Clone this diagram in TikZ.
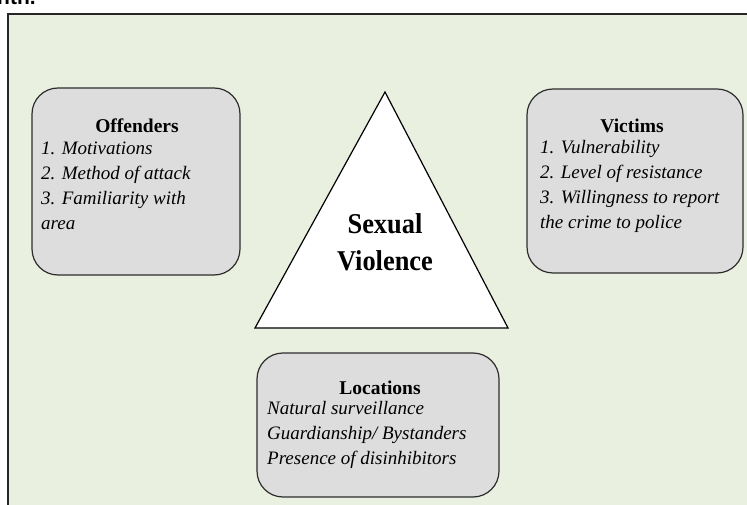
\documentclass[tikz,border=0pt]{standalone}
\usepackage{fontspec}
\setmainfont{Liberation Serif}
\newfontfamily\headsans{Liberation Sans}
\newfontfamily\coreserif[FakeStretch=0.92]{Liberation Serif}
\usepackage{xcolor}
\definecolor{panelgreen}{RGB}{233,240,223}
\definecolor{boxgrey}{RGB}{221,221,221}
\definecolor{edgegrey}{RGB}{45,45,45}

\tikzset{
  factorbox/.style={draw=edgegrey, fill=boxgrey, line width=1.2pt,
    rounded corners=26pt, inner sep=0pt},
  boxtitle/.style={anchor=base, inner sep=0pt,
    font=\fontsize{19.5}{23}\selectfont\bfseries},
  itemlist/.style={anchor=north west, inner sep=0pt, align=left,
    font=\fontsize{19}{25}\selectfont\itshape},
}

\begin{document}
\begin{tikzpicture}[x=1pt,y=-1pt]
\useasboundingbox (0,0) rectangle (747,505);

% tail of the line above the figure
\node[anchor=base west, inner sep=0pt, font=\headsans\bfseries\fontsize{21}{24}\selectfont] (runin) at (-3,5) {nth.};

% panel
\draw[draw=black!85, line width=1.5pt, fill=panelgreen] (8,14) rectangle (770,530);

% centre triangle
\draw[fill=white, line width=1.2pt, draw=black] (385,92) -- (508,328) -- (255,328) -- cycle;
\node[anchor=north, inner sep=0pt, align=center,
  font=\coreserif\bfseries\fontsize{28.7}{37}\selectfont] (core) at (385,213) {Sexual\\Violence};

% offenders
\node[factorbox, minimum width=208pt, minimum height=187pt] (offbox) at (136,181.5) {};
\node[boxtitle] (offtitle) at (137,133) {Offenders};
\node[itemlist] (offlist) at (41,141.5) {1. Motivations\\2. Method of attack\\3. Familiarity with\\area};

% victims
\node[factorbox, minimum width=216pt, minimum height=184pt] (vicbox) at (635,181) {};
\node[boxtitle] (victitle) at (632,133) {Victims};
\node[itemlist] (viclist) at (540,140.5) {1. Vulnerability\\2. Level of resistance\\3. Willingness to report\\the crime to police};

% locations
\node[factorbox, minimum width=242pt, minimum height=144pt] (locbox) at (378,425) {};
\node[boxtitle] (loctitle) at (380,394) {Locations};
\node[itemlist] (loclist) at (267,401.5) {Natural surveillance\\Guardianship/ Bystanders\\Presence of disinhibitors};
\end{tikzpicture}
\end{document}
